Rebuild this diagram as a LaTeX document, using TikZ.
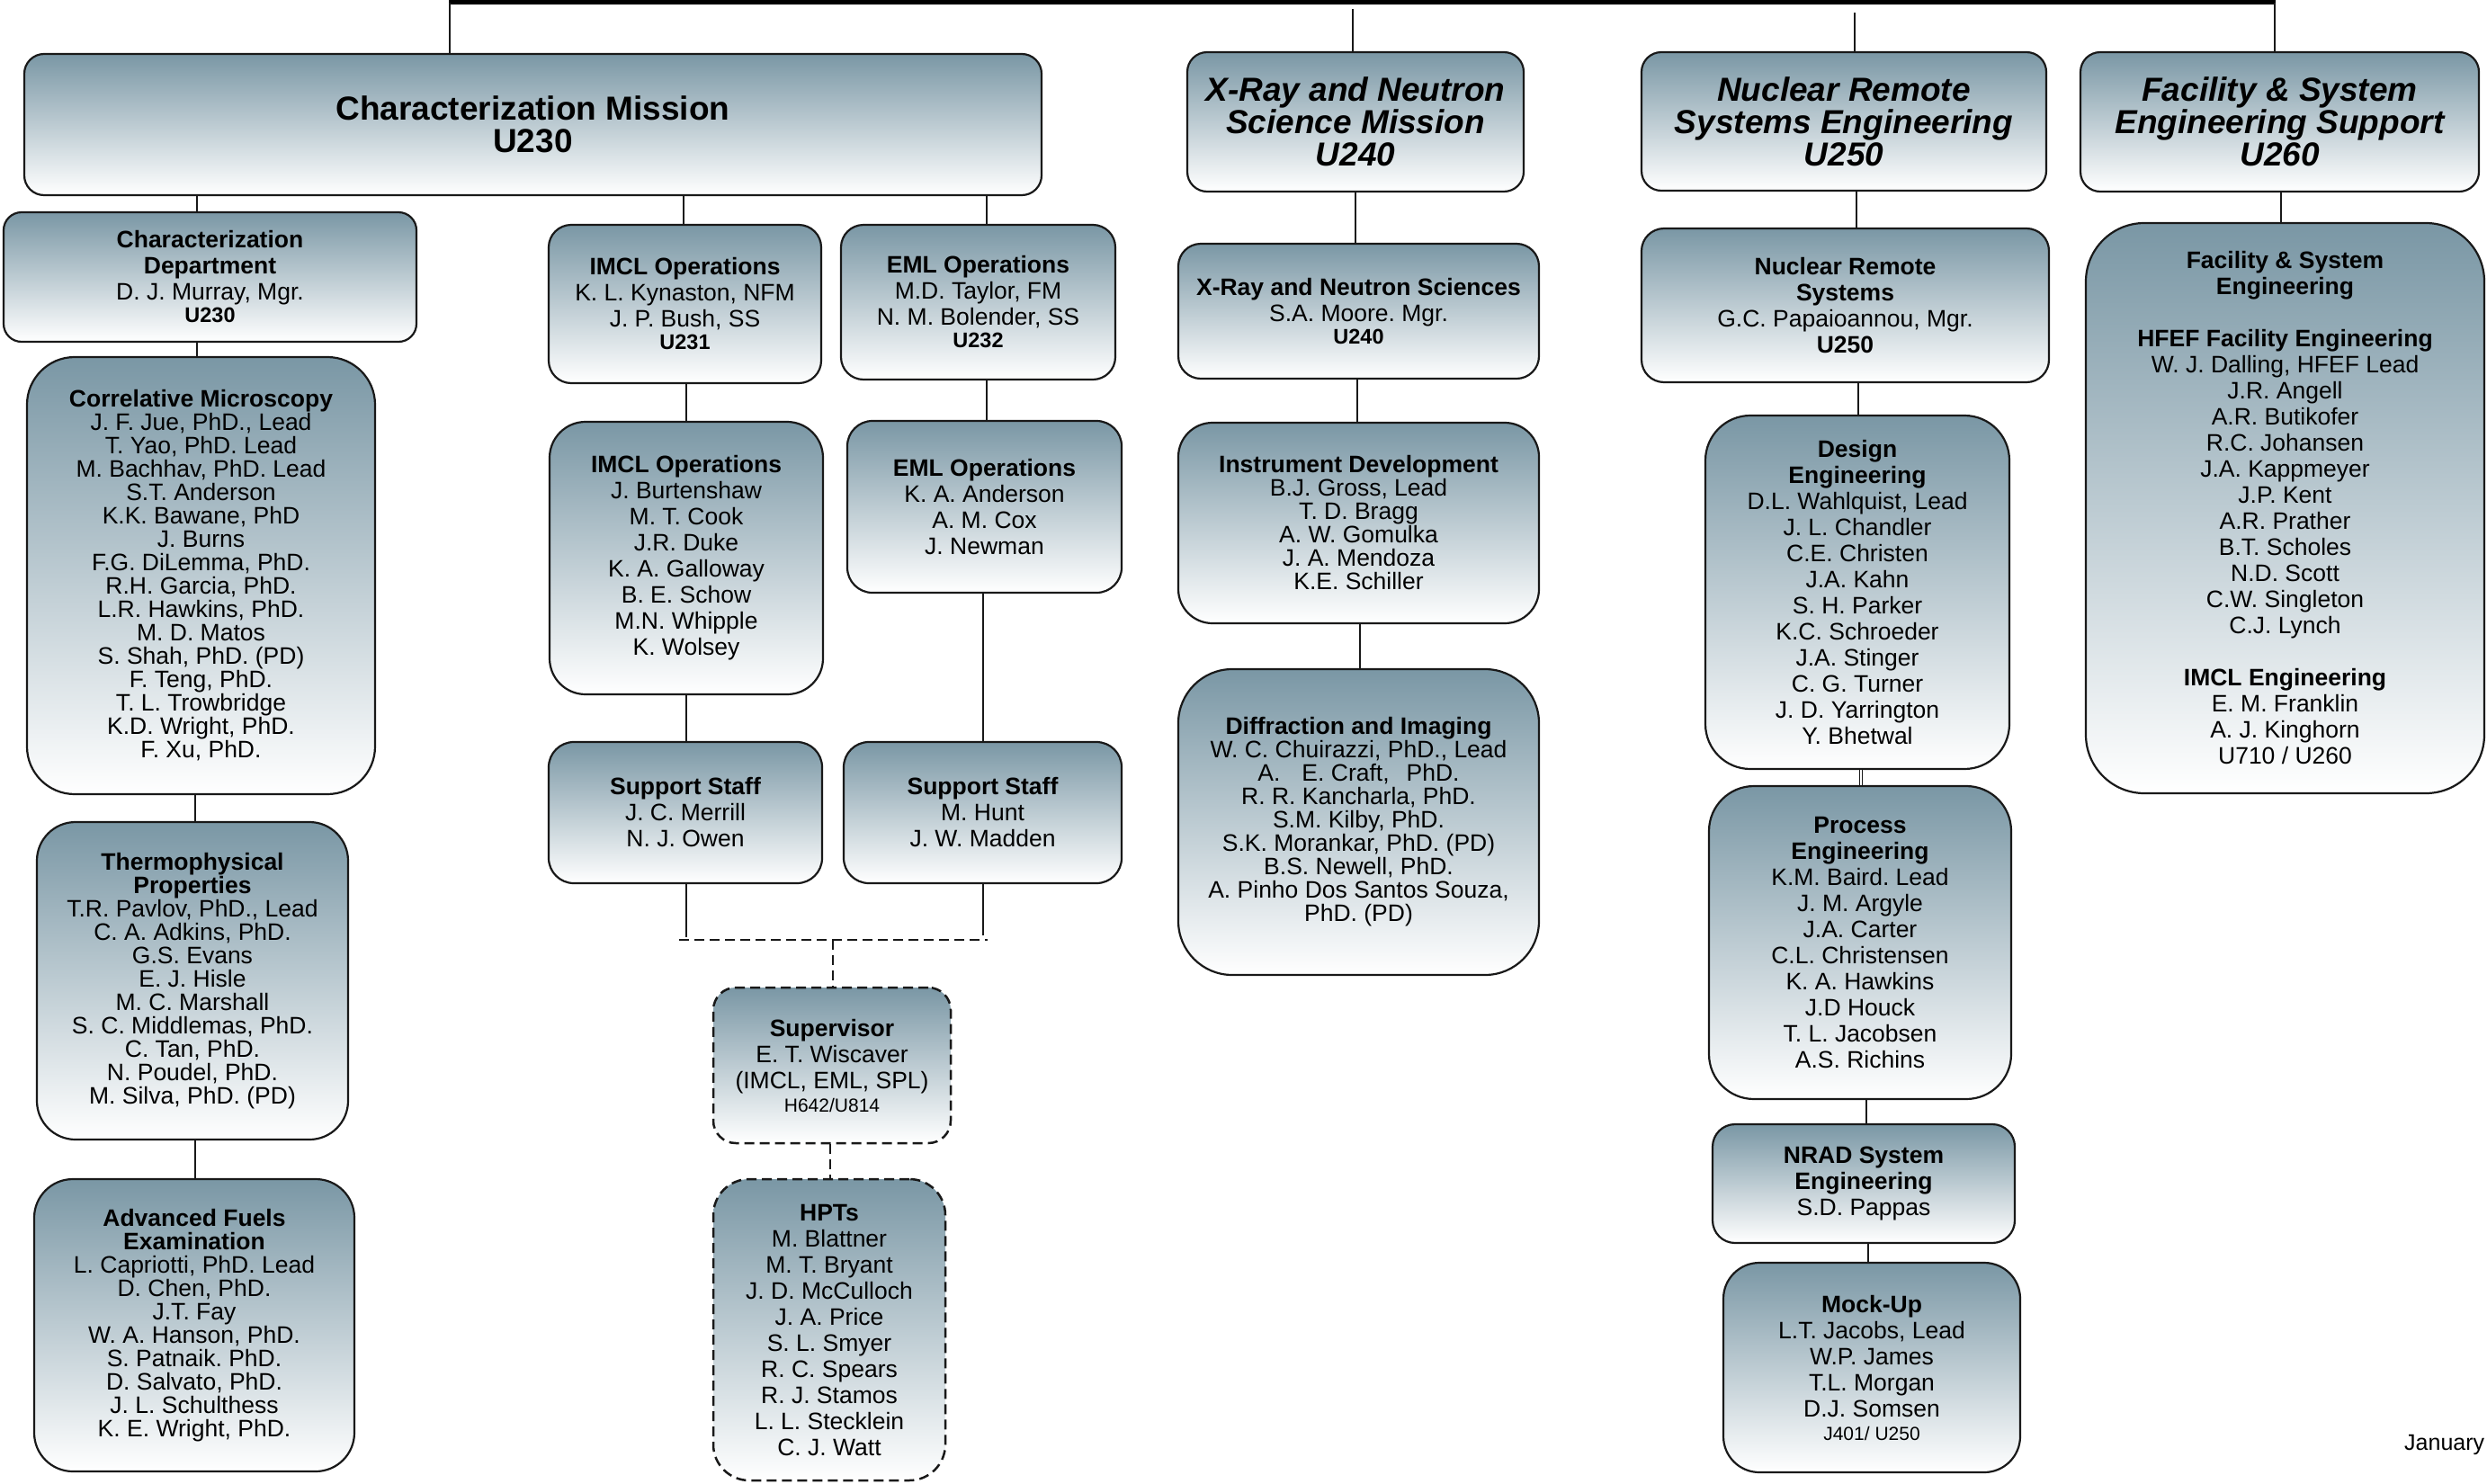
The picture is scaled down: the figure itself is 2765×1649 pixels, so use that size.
\documentclass[tikz,border=0pt]{standalone}
\usepackage{fontspec}
\setmainfont{Liberation Sans}
\definecolor{boxtop}{RGB}{122,151,165}
\definecolor{linecol}{RGB}{25,25,25}
\frenchspacing
\newcommand\bodyA{\fontsize{26.5}{29}\selectfont\frenchspacing}
\newcommand\bodyB{\fontsize{26.5}{26}\selectfont\frenchspacing}
\newcommand\titlefont{\fontsize{37}{36}\selectfont\bfseries\frenchspacing}
\newcommand\B[1]{\textbf{#1}}
\newcommand\ucode[1]{\\[-4pt]{\fontsize{23.5}{25}\selectfont\bfseries #1}}
\newcommand\scode[1]{\\[-3pt]{\fontsize{21}{22}\selectfont #1}}
\newcommand\orgbox[8][]{%
  \pgfmathsetmacro\bxc{(#3+#5)/2}%
  \pgfmathsetmacro\byc{(#4+#6)/2}%
  \pgfmathsetmacro\bw{#5-#3}%
  \pgfmathsetmacro\bh{#6-#4}%
  \node[orgnode, rounded corners=#7pt, minimum width=\bw pt, minimum height=\bh pt, #1] (#2) at (\bxc,\byc) {#8};%
}
\tikzset{
  orgnode/.style={draw=linecol, line width=2.2pt, top color=boxtop, bottom color=white,
    align=center, inner sep=0pt, font=\bodyA},
  tight/.style={font=\bodyB},
  dashbox/.style={dash pattern=on 11pt off 6pt, line width=2.5pt},
  conn/.style={line width=1.8pt, draw=linecol},
  dconn/.style={conn, line width=2.3pt, dash pattern=on 11pt off 6pt},
  dblconn/.style={draw=linecol, line width=1.2pt, double, double distance=1.4pt},
  barline/.style={line width=4.5pt, draw=black},
}
\begin{document}
\begin{tikzpicture}[x=1pt,y=-1pt]
\useasboundingbox (0,0) rectangle (2765,1649);
\fill[white] (0,0) rectangle (2765,1649);

% ---- mission level
\orgbox[font=\titlefont]{cm}{27}{60}{1158}{217}{22}{Characterization Mission\\U230}
\orgbox[font=\titlefont\itshape]{xm}{1320}{58}{1694}{213}{22}{X-Ray and Neutron\\Science Mission\\U240}
\orgbox[font=\titlefont\itshape]{nm}{1825}{58}{2275}{212}{22}{Nuclear Remote\\Systems Engineering\\U250}
\orgbox[font=\titlefont\itshape]{fm}{2313}{58}{2756}{213}{22}{Facility \& System\\Engineering Support\\U260}

% ---- characterization column
\orgbox{cd}{4}{236}{463}{380}{20}{\B{Characterization}\\\B{Department}\\D. J. Murray, Mgr.\ucode{U230}}
\orgbox[tight]{corr}{30}{397}{417}{883}{53}{\B{Correlative Microscopy}\\J. F. Jue, PhD., Lead\\T. Yao, PhD. Lead\\M. Bachhav, PhD. Lead\\S.T. Anderson\\K.K. Bawane, PhD\\J. Burns\\F.G. DiLemma, PhD.\\R.H. Garcia, PhD.\\L.R. Hawkins, PhD.\\M. D. Matos\\S. Shah, PhD. (PD)\\F. Teng, PhD.\\T. L. Trowbridge\\K.D. Wright, PhD.\\F. Xu, PhD.}
\orgbox[tight]{thermo}{41}{914}{387}{1267}{43}{\B{Thermophysical}\\\B{Properties}\\T.R. Pavlov, PhD., Lead\\C. A. Adkins, PhD.\\G.S. Evans\\E. J. Hisle\\M. C. Marshall\\S. C. Middlemas, PhD.\\C. Tan, PhD.\\N. Poudel, PhD.\\M. Silva, PhD. (PD)}
\orgbox[tight]{afe}{38}{1311}{394}{1636}{43}{\B{Advanced Fuels}\\\B{Examination}\\L. Capriotti, PhD. Lead\\D. Chen, PhD.\\J.T. Fay\\W. A. Hanson, PhD.\\S. Patnaik. PhD.\\D. Salvato, PhD.\\J. L. Schulthess\\K. E. Wright, PhD.}

% ---- IMCL / EML
\orgbox{imcla}{610}{250}{913}{426}{25}{\B{IMCL Operations}\\K. L. Kynaston, NFM\\J. P. Bush, SS\ucode{U231}}
\orgbox{imclb}{611}{469}{915}{772}{40}{\B{IMCL Operations}\\J. Burtenshaw\\M. T. Cook\\J.R. Duke\\K. A. Galloway\\B. E. Schow\\M.N. Whipple\\K. Wolsey}
\orgbox{supa}{610}{825}{914}{982}{28}{\B{Support Staff}\\J. C. Merrill\\N. J. Owen}
\orgbox{emla}{935}{250}{1240}{422}{25}{\B{EML Operations}\\M.D. Taylor, FM\\N. M. Bolender, SS\ucode{U232}}
\orgbox{emlb}{942}{468}{1247}{659}{28}{\B{EML Operations}\\K. A. Anderson\\A. M. Cox\\J. Newman}
\orgbox{supb}{938}{825}{1247}{982}{28}{\B{Support Staff}\\M. Hunt\\J. W. Madden}
\orgbox[dashbox]{super}{793}{1098}{1057}{1271}{25}{\B{Supervisor}\\E. T. Wiscaver\\(IMCL, EML, SPL)\scode{H642/U814}}
\orgbox[dashbox]{hpts}{793}{1311}{1051}{1646}{40}{\B{HPTs}\\M. Blattner\\M. T. Bryant\\J. D. McCulloch\\J. A. Price\\S. L. Smyer\\R. C. Spears\\R. J. Stamos\\L. L. Stecklein\\C. J. Watt}

% ---- X-ray column
\orgbox{xs}{1310}{271}{1711}{421}{25}{\B{X-Ray and Neutron Sciences}\\S.A. Moore. Mgr.\ucode{U240}}
\orgbox[tight]{idev}{1310}{470}{1711}{693}{38}{\B{Instrument Development}\\B.J. Gross, Lead\\T. D. Bragg\\A. W. Gomulka\\J. A. Mendoza\\K.E. Schiller}
\orgbox[tight]{di}{1310}{744}{1711}{1084}{60}{\B{Diffraction and Imaging}\\W. C. Chuirazzi, PhD., Lead\\A.\hspace{24pt}E. Craft,\hspace{19pt}PhD.\\R. R. Kancharla, PhD.\\S.M. Kilby, PhD.\\S.K. Morankar, PhD. (PD)\\B.S. Newell, PhD.\\A. Pinho Dos Santos Souza,\\PhD. (PD)}

% ---- Nuclear remote column
\orgbox{nrs}{1825}{254}{2278}{425}{25}{\B{Nuclear Remote}\\\B{Systems}\\G.C. Papaioannou, Mgr.\\\B{U250}}
\orgbox{de}{1896}{462}{2234}{855}{50}{\B{Design}\\\B{Engineering}\\D.L. Wahlquist, Lead\\J. L. Chandler\\C.E. Christen\\J.A. Kahn\\S. H. Parker\\K.C. Schroeder\\J.A. Stinger\\C. G. Turner\\J. D. Yarrington\\Y. Bhetwal}
\orgbox{pe}{1900}{874}{2236}{1222}{50}{\B{Process}\\\B{Engineering}\\K.M. Baird. Lead\\J. M. Argyle\\J.A. Carter\\C.L. Christensen\\K. A. Hawkins\\J.D Houck\\T. L. Jacobsen\\A.S. Richins}
\orgbox{nrad}{1904}{1250}{2240}{1382}{25}{\B{NRAD System}\\\B{Engineering}\\S.D. Pappas}
\orgbox{mu}{1916}{1404}{2246}{1637}{40}{\B{Mock-Up}\\L.T. Jacobs, Lead\\W.P. James\\T.L. Morgan\\D.J. Somsen\scode{J401/ U250}}

% ---- Facility column
\orgbox{fse}{2319}{248}{2762}{882}{65}{\B{Facility \& System}\\\B{Engineering}\\[29pt]\B{HFEF Facility Engineering}\\W. J. Dalling, HFEF Lead\\J.R. Angell\\A.R. Butikofer\\R.C. Johansen\\J.A. Kappmeyer\\J.P. Kent\\A.R. Prather\\B.T. Scholes\\N.D. Scott\\C.W. Singleton\\C.J. Lynch\\[29pt]\B{IMCL Engineering}\\E. M. Franklin\\A. J. Kinghorn\\U710 / U260}

\node[anchor=base west, inner sep=0pt, font=\fontsize{25}{27}\selectfont] (jan) at (2673,1612) {January};

% ---- connectors
\coordinate (barL) at (500,2.5);
\coordinate (barR) at (2529,2.5);
\draw[barline] ([xshift=-1pt]barL) -- ([xshift=1pt]barR);
\draw[conn] (barL) -- (cm.north -| barL);
\draw[conn] (barR) -- (fm.north -| barR);
\coordinate (dX) at (1504,10);
\draw[conn] (dX) -- (xm.north -| dX);
\coordinate (dN) at (2062,14);
\draw[conn] (dN) -- (nm.north -| dN);

\coordinate (k1) at (219,0);
\coordinate (k2) at (217,0);
\draw[conn] (cm.south -| k1) -- (cd.north -| k1);
\draw[conn] (cd.south -| k1) -- (corr.north -| k1);
\draw[conn] (corr.south -| k2) -- (thermo.north -| k2);
\draw[conn] (thermo.south -| k2) -- (afe.north -| k2);

\coordinate (k3) at (760,0);
\coordinate (k4) at (763,0);
\coordinate (k5) at (1097,0);
\coordinate (k6) at (1093,0);
\coordinate (jA) at (763,1042);
\coordinate (jB) at (1093,1040);
\draw[conn] (cm.south -| k3) -- (imcla.north -| k3);
\draw[conn] (imcla.south -| k4) -- (imclb.north -| k4);
\draw[conn] (imclb.south -| k4) -- (supa.north -| k4);
\draw[conn] (supa.south -| k4) -- (jA);
\draw[conn] (cm.south -| k5) -- (emla.north -| k5);
\draw[conn] (emla.south -| k5) -- (emlb.north -| k5);
\draw[conn] (emlb.south -| k6) -- (supb.north -| k6);
\draw[conn] (supb.south -| k6) -- (jB);
\coordinate (hL) at (755,1045);
\coordinate (hR) at (1098,1045);
\coordinate (hM) at (926,1045);
\coordinate (k7) at (923,0);
\draw[dconn] (hL) -- (hR);
\draw[dconn] (hM) -- (super.north -| hM);
\draw[dconn] (super.south -| k7) -- (hpts.north -| k7);

\coordinate (k8) at (1507,0);
\coordinate (k9) at (1509,0);
\coordinate (k10) at (1512,0);
\draw[conn] (xm.south -| k8) -- (xs.north -| k8);
\draw[conn] (xs.south -| k9) -- (idev.north -| k9);
\draw[conn] (idev.south -| k10) -- (di.north -| k10);

\coordinate (k11) at (2064,0);
\coordinate (k12) at (2066,0);
\coordinate (k13) at (2069,0);
\coordinate (k14) at (2075,0);
\coordinate (k15) at (2077,0);
\draw[conn] (nm.south -| k11) -- (nrs.north -| k11);
\draw[conn] (nrs.south -| k12) -- (de.north -| k12);
\draw[dblconn] (de.south -| k13) -- (pe.north -| k13);
\draw[conn] (pe.south -| k14) -- (nrad.north -| k14);
\draw[conn] (nrad.south -| k15) -- (mu.north -| k15);

\coordinate (k16) at (2536,0);
\draw[conn] (fm.south -| k16) -- (fse.north -| k16);
\end{tikzpicture}
\end{document}
